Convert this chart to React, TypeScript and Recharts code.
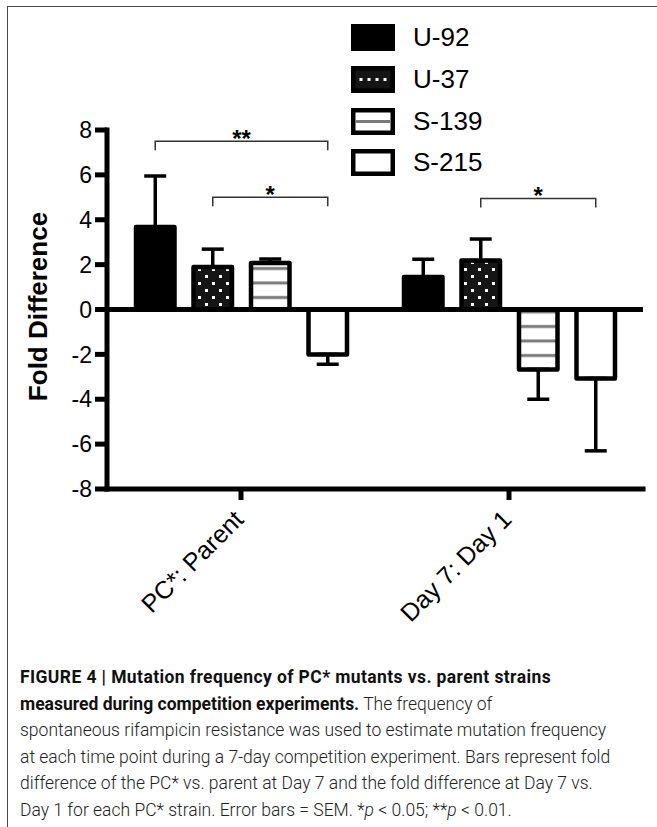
import React from "react";
import { BarChart, Bar, XAxis, YAxis, ReferenceLine, ErrorBar, Legend, LabelList } from "recharts";

// categories on the x axis
const categories = ["PC*: Parent", "Day 7: Day 1"];
const seriesNames = ["U-92", "U-37", "S-139", "S-215"];

// fold difference per strain, and SEM
const u92 = [3.68, 1.45];
const u92Sem = [2.27, 0.79];
const u37 = [1.89, 2.18];
const u37Sem = [0.8, 0.96];
const s139 = [2.07, -2.67];
const s139Sem = [0.18, 1.33];
const s215 = [-2.0, -3.07];
const s215Sem = [0.44, 3.23];

const yTicks = [-8, -6, -4, -2, 0, 2, 4, 6, 8];

// significance brackets (fold value of the bracket line)
const brackets = [
  { cat: 0, from: "U-92", to: "S-215", level: 7.5, mark: "**" },
  { cat: 0, from: "U-37", to: "S-215", level: 5.0, mark: "*" },
  { cat: 1, from: "U-37", to: "S-215", level: 4.95, mark: "*" },
];

const BAR_SIZE = 38.5;
const BAR_GAP = 19;
const FONT = "'Liberation Sans', Arial, Helvetica, sans-serif";

// error bars only drawn away from zero, like the original
const oneSided = (v: number, e: number) => (v >= 0 ? [0, e] : [e, 0]);

const values: Record<string, number[]> = { "U-92": u92, "U-37": u37, "S-139": s139, "S-215": s215 };
const sems: Record<string, number[]> = { "U-92": u92Sem, "U-37": u37Sem, "S-139": s139Sem, "S-215": s215Sem };

const data = categories.map((cat, i) => {
  const row: any = { cat };
  seriesNames.forEach((s) => {
    row[s] = values[s][i];
    row[s + "_err"] = oneSided(values[s][i], sems[s][i]);
  });
  return row;
});

const fills: Record<string, string> = {
  "U-92": "#000",
  "U-37": "url(#dots)",
  "S-139": "url(#hlines)",
  "S-215": "#fff",
};

const bracketLabel = (series: string) => (props: any) => {
  const vb = props.viewBox ?? props;
  const { x, y, width, height } = vb;
  const value = Number(props.value);
  const index = props.index ?? values[series].indexOf(value);
  const items = brackets.filter((b) => b.from === series && b.cat === index);
  if (!items.length || !value) return null;
  const top = Math.min(y, y + height);
  const bottom = Math.max(y, y + height);
  const unit = (bottom - top) / Math.abs(value);
  const zeroY = value >= 0 ? bottom : top;
  const cx = x + width / 2;
  return (
    <g>
      {items.map((b, k) => {
        const span = seriesNames.indexOf(b.to) - seriesNames.indexOf(b.from);
        const x2 = cx + span * (BAR_SIZE + BAR_GAP);
        const ly = zeroY - b.level * unit;
        return (
          <g key={k}>
            <path d={`M${cx},${ly + 9}V${ly}H${x2}V${ly + 9}`} fill="none" stroke="#333" strokeWidth={1.5} />
            <text x={(cx + x2) / 2} y={ly + 6} textAnchor="middle" fontSize={24} fontWeight="bold" fill="#000" fontFamily={FONT}>
              {b.mark}
            </text>
          </g>
        );
      })}
    </g>
  );
};

const CatTick = (props: any) => {
  const { x, y, payload } = props;
  const px = x + 4;
  const py = y + 19;
  return (
    <text x={px} y={py} transform={`rotate(-45 ${px} ${py})`} textAnchor="end" fontSize={25} fill="#000" fontFamily={FONT}>
      {payload.value}
    </text>
  );
};

const Swatch = ({ name }: { name: string }) => (
  <svg width={44} height={27} style={{ display: "block" }}>
    <rect x={2.25} y={2.25} width={39.5} height={22.5} fill={name === "U-37" ? "#151515" : name === "U-92" ? "#000" : "#fff"} stroke="#000" strokeWidth={4.5} />
    {name === "U-37" &&
      [10, 18, 26, 34].map((dx) => <rect key={dx} x={dx - 1.5} y={12} width={3} height={3} fill="#fff" />)}
    {name === "S-139" && <rect x={4.5} y={12} width={35} height={3} fill="#7a7a7a" />}
  </svg>
);

const renderLegend = (props: any) => {
  const items = [...(props.payload || [])].sort(
    (a: any, b: any) => seriesNames.indexOf(a.value) - seriesNames.indexOf(b.value)
  );
  return (
    <div>
      {items.map((entry: any) => (
        <div key={entry.value} style={{ display: "flex", alignItems: "center", height: 41.7 }}>
          <Swatch name={entry.value} />
          <span style={{ marginLeft: 18, fontSize: 26, color: "#000", fontFamily: FONT }}>{entry.value}</span>
        </div>
      ))}
    </div>
  );
};

const YLabel = (props: any) => {
  const vb = props.viewBox;
  const cy = vb.y + vb.height / 2 - 3;
  return (
    <text x={47} y={cy} transform={`rotate(-90 47 ${cy})`} textAnchor="middle" fontSize={26} fontWeight="bold" fill="#000" fontFamily={FONT}>
      Fold Difference
    </text>
  );
};

const captionStyle: React.CSSProperties = {
  position: "absolute",
  left: 20,
  top: 664,
  fontFamily: "Roboto, 'Liberation Sans', sans-serif",
  fontWeight: 300,
  fontSize: 17.5,
  lineHeight: "26.6px",
  color: "#222",
  whiteSpace: "nowrap",
};

export default function App() {
  return (
    <div
      style={{
        position: "absolute",
        left: 0,
        top: 0,
        width: 657,
        height: 827,
        background: "#fff",
        overflow: "hidden",
        fontFamily: FONT,
      }}
    >
      <div
        style={{
          position: "absolute",
          left: 7,
          top: 6,
          width: 660,
          height: 830,
          borderTop: "1.5px solid #4a4a4a",
          borderLeft: "1.5px solid #4a4a4a",
        }}
      />
      <div style={{ position: "absolute", left: 0, top: 0 }}>
        <BarChart
          width={657}
          height={650}
          data={data}
          margin={{ top: 130, right: 14, left: 0, bottom: 0 }}
          barSize={BAR_SIZE}
          barGap={BAR_GAP}
        >
          <defs>
            <pattern id="dots" patternUnits="userSpaceOnUse" width={14} height={14}>
              <rect width={14} height={14} fill="#151515" />
              <rect x={2} y={2} width={3} height={3} fill="#fff" />
              <rect x={9} y={9} width={3} height={3} fill="#fff" />
            </pattern>
            <pattern id="hlines" patternUnits="userSpaceOnUse" width={10} height={14.5}>
              <rect width={10} height={14.5} fill="#fff" />
              <rect y={6} width={10} height={3} fill="#7a7a7a" />
            </pattern>
          </defs>
          <XAxis
            dataKey="cat"
            height={161}
            axisLine={{ stroke: "#000", strokeWidth: 5, strokeLinecap: "square" }}
            tickLine={{ stroke: "#000", strokeWidth: 5 }}
            tickSize={11}
            tickMargin={2}
            tick={<CatTick />}
            interval={0}
          />
          <YAxis
            width={107}
            domain={[-8, 8]}
            ticks={yTicks}
            allowDataOverflow
            interval={0}
            axisLine={{ stroke: "#000", strokeWidth: 5, strokeLinecap: "square" }}
            tickLine={{ stroke: "#000", strokeWidth: 5 }}
            tickSize={12}
            tickMargin={3}
            tick={{ fill: "#000", fontSize: 23, fontFamily: FONT }}
            label={<YLabel />}
          />
          <ReferenceLine y={0} stroke="#000" strokeWidth={5} />
          <Legend
            layout="vertical"
            align="center"
            verticalAlign="middle"
            content={renderLegend}
            wrapperStyle={{ left: 351, top: 17, width: 200 }}
          />
          {seriesNames.map((s) => (
            <Bar
              key={s}
              dataKey={s}
              name={s}
              fill={fills[s]}
              stroke="#000"
              strokeWidth={4.5}
              strokeLinejoin="round"
              isAnimationActive={false}
            >
              <ErrorBar dataKey={s + "_err"} width={11} stroke="#000" strokeWidth={3.5} direction="y" />
              <LabelList dataKey={s} content={bracketLabel(s)} />
            </Bar>
          ))}
        </BarChart>
      </div>
      <div style={captionStyle}>
        <div style={{ fontWeight: 700, color: "#111", letterSpacing: 0.4 }}>
          FIGURE 4 | Mutation frequency of PC* mutants vs. parent strains
        </div>
        <div>
          <span style={{ fontWeight: 700, color: "#111" }}>measured during competition experiments.</span> The frequency of
        </div>
        <div>spontaneous rifampicin resistance was used to estimate mutation frequency</div>
        <div>at each time point during a 7-day competition experiment. Bars represent fold</div>
        <div>difference of the PC* vs. parent at Day 7 and the fold difference at Day 7 vs.</div>
        <div>
          Day 1 for each PC* strain. Error bars = SEM. *<i>p</i> &lt; 0.05; **<i>p</i> &lt; 0.01.
        </div>
      </div>
    </div>
  );
}
